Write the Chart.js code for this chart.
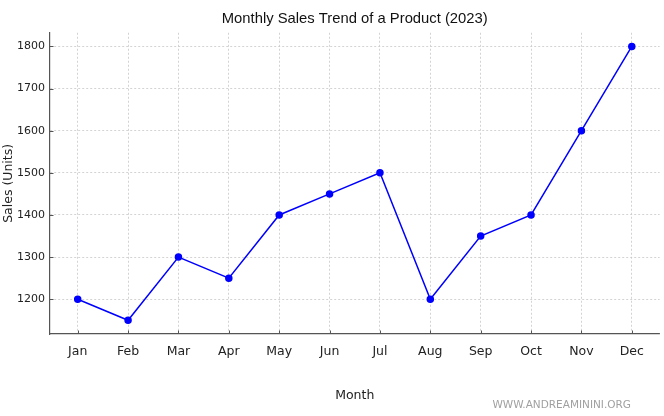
<!DOCTYPE html>
<html>
<head>
<meta charset="utf-8">
<script src="https://cdn.jsdelivr.net/npm/chart.js@4"></script>
<style>
  html, body { margin: 0; padding: 0; background: #fff; }
  #wrap { width: 664px; height: 416px; position: relative; }
</style>
</head>
<body>
<div id="wrap"><canvas id="ctx_sales"></canvas></div>
<script>
const months = ['Jan', 'Feb', 'Mar', 'Apr', 'May', 'Jun', 'Jul', 'Aug', 'Sep', 'Oct', 'Nov', 'Dec'];
const sales = [1200, 1150, 1300, 1250, 1400, 1450, 1500, 1200, 1350, 1400, 1600, 1800];
const yTicks = [1200, 1300, 1400, 1500, 1600, 1700, 1800];

const ctx_sales = document.getElementById('ctx_sales');
const font = 'DejaVu Sans';

// matplotlib-style inward tick marks + watermark
const extras = {
    id: 'extras',
    afterDraw(chart) {
        const c = chart.ctx;
        const x = chart.scales.x, y = chart.scales.y;
        const area = chart.chartArea;
        c.save();
        c.strokeStyle = '#555';
        c.lineWidth = 1;
        c.beginPath();
        months.forEach((m, i) => {
            const px = Math.round(x.getPixelForValue(i)) + 0.5;
            c.moveTo(px, area.bottom);
            c.lineTo(px, area.bottom - 3.5);
        });
        yTicks.forEach(v => {
            const py = Math.round(y.getPixelForValue(v)) + 0.5;
            c.moveTo(area.left, py);
            c.lineTo(area.left + 3.5, py);
        });
        c.stroke();
        c.fillStyle = '#a0a0a0';
        c.font = '10.5px ' + font;
        c.textAlign = 'right';
        c.textBaseline = 'middle';
        c.fillText('WWW.ANDREAMININI.ORG', 631, 405);
        c.restore();
    }
};

new Chart(ctx_sales, {
    type: 'line',
    data: {
        datasets: [{
            label: 'Sales',
            data: sales.map((v, i) => ({ x: i, y: v })),
            borderColor: '#0000ff',
            backgroundColor: '#0000ff',
            borderWidth: 1.5,
            pointRadius: 3,
            pointHoverRadius: 3,
            tension: 0
        }]
    },
    options: {
        responsive: true,
        maintainAspectRatio: false,
        animation: false,
        layout: { padding: { left: 0, right: 3, top: 0, bottom: 0 } },
        scales: {
            x: {
                type: 'linear',
                min: -0.55,
                max: 11.55,
                afterBuildTicks(scale) {
                    scale.ticks = months.map((m, i) => ({ value: i }));
                },
                afterFit(scale) { scale.height = 82; },
                ticks: {
                    autoSkip: false,
                    maxRotation: 0,
                    padding: 10,
                    color: '#222',
                    font: { family: font, size: 12.5 },
                    callback: (v) => months[v]
                },
                grid: {
                    display: true,
                    drawTicks: false,
                    color: '#c8c8c8',
                    lineWidth: 0.8
                },
                // in v4 border.dash also sets the grid line dash
                border: { display: true, color: '#555', width: 1.2, dash: [2, 2] },
                title: {
                    display: true,
                    text: 'Month',
                    color: '#222',
                    font: { family: font, size: 12.5 },
                    padding: { top: 0, bottom: 13 }
                }
            },
            y: {
                min: 1117.5,
                max: 1832.5,
                afterBuildTicks(scale) {
                    scale.ticks = yTicks.map(v => ({ value: v }));
                },
                afterFit(scale) { scale.width = 50; },
                ticks: {
                    padding: 5,
                    color: '#222',
                    font: { family: font, size: 11 },
                    callback: (v) => String(v)
                },
                grid: {
                    display: true,
                    drawTicks: false,
                    color: '#c8c8c8',
                    lineWidth: 0.8
                },
                border: { display: true, color: '#555', width: 1.2, dash: [2, 2] },
                title: {
                    display: true,
                    text: 'Sales (Units)',
                    color: '#222',
                    font: { family: font, size: 12.5 },
                    padding: { top: 1, bottom: 0 }
                }
            }
        },
        plugins: {
            legend: { display: false },
            tooltip: { enabled: false },
            title: {
                display: true,
                fullSize: false,
                text: 'Monthly Sales Trend of a Product (2023)',
                color: '#111',
                font: { family: 'Liberation Sans', size: 14.8, weight: 'normal' },
                padding: { top: 10, bottom: 5 }
            }
        }
    },
    plugins: [extras]
});
</script>
</body>
</html>
